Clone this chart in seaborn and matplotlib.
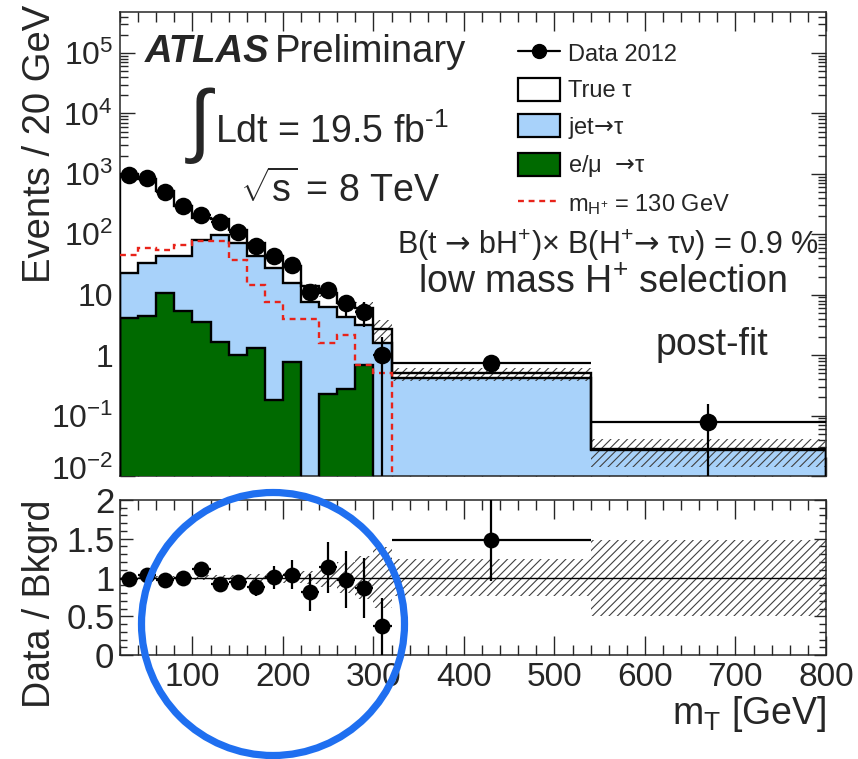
import numpy as np
import matplotlib
matplotlib.use("Agg")
import matplotlib.pyplot as plt
import matplotlib.transforms as mtransforms
import seaborn as sns
import pandas as pd
from matplotlib.patches import Patch, Ellipse
from matplotlib.lines import Line2D
from matplotlib.ticker import FixedLocator, MultipleLocator, NullFormatter, LogLocator

# ---------------- data ----------------
bin_edges = [20, 40, 60, 80, 100, 120, 140, 160, 180, 200, 220, 240, 260, 280, 300, 320, 540, 800]
data_2012 = [960, 850, 510, 290, 210, 162, 110, 64, 44, 31, 11.3, 12, 7.2, 5.2, 1.0, 0.74, 0.078]
data_err = [31, 29, 23, 17, 14.5, 12.7, 10.5, 8, 6.6, 5.6, 3.4, 3.5, 2.7, 2.3, 1.0, 0.26, 0.077]
true_tau = [960, 792, 483, 247, 108, 80, 46, 30, 16.5, 14.5, 6.3, 4.3, 3.1, 2.8, 1.1, 0.08, 0.001]
jet_tau = [18.6, 28.6, 32.5, 37.7, 77.5, 96.3, 70, 41.7, 27.3, 14.7, 7.7, 6.07, 4.02, 2.51, 1.6, 0.42, 0.027]
emu_tau = [4.1, 4.4, 10.5, 5.3, 3.5, 1.67, 1.0, 1.3, 0.18, 0.78, 0, 0.23, 0.28, 0.69, 0, 0, 0]
signal_130 = [46, 59, 54, 66, 76, 76, 38, 14.5, 7.7, 4.0, 4.0, 1.57, 2.15, 0.69, 0.5, 0, 0]
syst_up = [0.02, 0.02, 0.02, 0.02, 0.03, 0.03, 0.03, 0.04, 0.06, 0.07, 0.08, 0.12, 0.2, 0.28, 0.39, 0.24, 0.48]
syst_dn = [0.02, 0.02, 0.02, 0.02, 0.03, 0.03, 0.03, 0.04, 0.06, 0.07, 0.08, 0.12, 0.2, 0.28, 0.39, 0.24, 0.50]

x_ticks = [100, 200, 300, 400, 500, 600, 700, 800]
x_tick_labels = ["100", "200", "300", "400", "500", "600", "700", "800"]
y_ticks_top = [1e-2, 1e-1, 1, 10, 1e2, 1e3, 1e4, 1e5]
y_tick_labels_top = [r"$10^{-2}$", r"$10^{-1}$", "1", "10", r"$10^{2}$", r"$10^{3}$", r"$10^{4}$", r"$10^{5}$"]
ratio_ticks = [0, 0.5, 1, 1.5, 2]
ratio_tick_labels = ["0", "0.5", "1", "1.5", "2"]

legend_labels = ["Data 2012", "True τ", r"jet$\mathsf{→}$τ", r"e/μ  $\mathsf{→}$τ",
                 r"m$_{\mathregular{H^{+}}}$ = 130 GeV"]

# ---------------- style ----------------
sns.set_theme(style="ticks")
plt.rcParams["font.family"] = ["Liberation Sans", "DejaVu Sans"]
plt.rcParams["mathtext.fontset"] = "custom"
plt.rcParams["mathtext.rm"] = "Liberation Sans"
plt.rcParams["mathtext.it"] = "Liberation Sans:italic"
plt.rcParams["mathtext.bf"] = "Liberation Sans:bold"
plt.rcParams["mathtext.sf"] = "DejaVu Sans"
plt.rcParams["hatch.linewidth"] = 0.8
plt.rcParams["axes.linewidth"] = 1.1

LIGHTBLUE = "#a8d2fa"
GREEN = "#006a00"
HATCHC = "#404040"
HATCH = "////"

edges = np.array(bin_edges, float)
centers = 0.5 * (edges[:-1] + edges[1:])
half = 0.5 * np.diff(edges)
d = np.array(data_2012)
de = np.array(data_err)
emu = np.array(emu_tau)
jet = np.array(jet_tau)
tru = np.array(true_tau)
sig = np.array(signal_130)
cum_green = emu
cum_blue = emu + jet
cum_total = emu + jet + tru
floor = 1e-4

fig = plt.figure(figsize=(8.58, 7.59), dpi=100)
ax = fig.add_axes([0.13986, 0.37286, 0.82284, 0.61133])
ax2 = fig.add_axes([0.13986, 0.13702, 0.82284, 0.20422])

# ---------------- top panel ----------------
ax.set_yscale("log")
ax.stairs(np.maximum(cum_total, floor), edges, baseline=floor, fill=True,
          facecolor="white", edgecolor="none", zorder=1)
ax.stairs(np.maximum(cum_blue, floor), edges, baseline=floor, fill=True,
          facecolor=LIGHTBLUE, edgecolor="none", zorder=2)
ax.stairs(np.maximum(cum_green, floor), edges, baseline=floor, fill=True,
          facecolor=GREEN, edgecolor="none", zorder=3)
band_hi = cum_total * (1 + np.array(syst_up))
band_lo = np.maximum(cum_total * (1 - np.array(syst_dn)), floor)
ax.stairs(band_hi, edges, baseline=band_lo, fill=True, facecolor="none",
          edgecolor=HATCHC, hatch=HATCH, linewidth=0, zorder=4)
for arr in (cum_total, cum_blue, cum_green):
    ax.stairs(np.maximum(arr, floor), edges, baseline=floor, fill=False,
              color="black", linewidth=1.7, zorder=5)
ax.stairs(np.maximum(sig, floor), edges, baseline=None, color="#e8231a",
          linestyle=(0, (2.5, 2)), linewidth=1.7, zorder=6)

lo_err = np.minimum(de, d * 0.999)
ax.errorbar(centers, d, xerr=half, yerr=[lo_err, de], fmt="none", ecolor="black",
            elinewidth=1.6, capsize=0, zorder=7)
df_top = pd.DataFrame({"mT": centers, "events": d})
sns.scatterplot(data=df_top, x="mT", y="events", ax=ax, color="black", s=160,
                edgecolor="black", linewidth=0, zorder=8, legend=False)

ax.set_xlim(20, 800)
ax.set_ylim(0.01, 4.77e5)
ax.xaxis.set_major_locator(FixedLocator(x_ticks))
ax.xaxis.set_minor_locator(MultipleLocator(20))
ax.set_xticklabels([])
ax.yaxis.set_major_locator(FixedLocator(y_ticks_top))
ax.set_yticklabels(y_tick_labels_top)
ax.yaxis.set_minor_locator(LogLocator(base=10, subs=np.arange(2, 10), numticks=50))
ax.yaxis.set_minor_formatter(NullFormatter())
ax.tick_params(axis="both", which="both", direction="in", top=True, right=True, width=1.0)
ax.tick_params(axis="x", which="major", length=14)
ax.tick_params(axis="x", which="minor", length=7)
ax.tick_params(axis="y", which="major", length=11, labelsize=23, pad=5)
ax.tick_params(axis="y", which="minor", length=5.5)
ax.set_xlabel("")
ax.set_ylabel("Events / 20 GeV", fontsize=27.5, loc="top")
ax.yaxis.set_label_coords(-0.088, 1.015)
# lift the lowest label a little so that it clears the ratio panel's "2"
low_lab = ax.get_yticklabels()[0]
low_lab.set_transform(low_lab.get_transform() +
                      mtransforms.ScaledTranslation(0, 8 / 100, fig.dpi_scale_trans))

# texts
ax.text(0.035, 0.913, "ATLAS", transform=ax.transAxes, fontsize=27.5, fontweight="bold",
        fontstyle="italic", va="center", ha="left")
ax.text(0.219, 0.913, "Preliminary", transform=ax.transAxes, fontsize=27.5, va="center", ha="left")
ax.text(0.098, 0.755, "∫", transform=ax.transAxes, fontsize=58, va="center", ha="left")
ax.text(0.134, 0.74, r"Ldt = 19.5 fb$^{\text{-1}}$", transform=ax.transAxes,
        fontsize=27, va="center", ha="left")
ax.text(0.170, 0.617, r"$\sqrt{\mathregular{s}}$ = 8 TeV", transform=ax.transAxes,
        fontsize=27, va="center", ha="left")
ax.text(0.392, 0.497, r"B(t $\mathsf{→}$ bH$^{+}$)× B(H$^{+}$$\mathsf{→}$ τν) = 0.9 %",
        transform=ax.transAxes, fontsize=22, va="center", ha="left")
ax.text(0.422, 0.415, r"low mass H$^{+}$ selection", transform=ax.transAxes,
        fontsize=27, va="center", ha="left")
ax.text(0.758, 0.282, "post-fit", transform=ax.transAxes, fontsize=27, va="center", ha="left")

handles = [
    Line2D([], [], color="black", marker="o", markersize=10, linewidth=1.6),
    Patch(facecolor="white", edgecolor="black", linewidth=1.6),
    Patch(facecolor=LIGHTBLUE, edgecolor="black", linewidth=1.6),
    Patch(facecolor=GREEN, edgecolor="black", linewidth=1.6),
    Line2D([], [], color="#e8231a", linestyle=(0, (2.5, 2)), linewidth=1.7),
]
leg = ax.legend(handles, legend_labels, loc="upper left", bbox_to_anchor=(0.564, 0.937),
                frameon=False, fontsize=17, handlelength=1.78, handleheight=1.14,
                labelspacing=0.5, handletextpad=0.34, borderpad=0, borderaxespad=0)

# ---------------- ratio panel ----------------
ratio = d / cum_total
ratio_err = de / cum_total
ratio_lo = np.minimum(ratio_err, ratio * 0.999)
show = ratio <= 2
ax2.stairs(1 + np.array(syst_up), edges, baseline=1 - np.array(syst_dn), fill=True,
           facecolor="none", edgecolor=HATCHC, hatch=HATCH, linewidth=0, zorder=1)
ax2.axhline(1, color="black", linewidth=1.0, zorder=2)
ax2.errorbar(centers[show], ratio[show], xerr=half[show],
             yerr=[ratio_lo[show], ratio_err[show]], fmt="none", ecolor="black",
             elinewidth=1.6, capsize=0, zorder=3)
df_rat = pd.DataFrame({"mT": centers[show], "ratio": ratio[show]})
sns.scatterplot(data=df_rat, x="mT", y="ratio", ax=ax2, color="black", s=130,
                edgecolor="black", linewidth=0, zorder=4, legend=False)
ax2.set_xlim(20, 800)
ax2.set_ylim(0, 2)
ax2.xaxis.set_major_locator(FixedLocator(x_ticks))
ax2.set_xticklabels(x_tick_labels)
ax2.xaxis.set_minor_locator(MultipleLocator(20))
ax2.yaxis.set_major_locator(FixedLocator(ratio_ticks))
ax2.set_yticklabels(ratio_tick_labels)
ax2.yaxis.set_minor_locator(MultipleLocator(0.1))
ax2.tick_params(axis="both", which="both", direction="in", top=True, right=True, width=1.0)
ax2.tick_params(axis="x", which="major", length=14, labelsize=24, pad=5)
ax2.tick_params(axis="x", which="minor", length=7)
ax2.tick_params(axis="y", which="major", length=9, labelsize=25, pad=4)
ax2.tick_params(axis="y", which="minor", length=5)
ax2.set_xlabel(r"m$_{\mathregular{T}}$ [GeV]", fontsize=27, loc="right")
ax2.xaxis.set_label_coords(1.0, -0.25)
ax2.set_ylabel("Data / Bkgrd", fontsize=27, loc="top")
ax2.yaxis.set_label_coords(-0.088, 1.0)

# blue highlight circle drawn on the figure
fig.add_artist(Ellipse((273 / 858, 1 - 624 / 759), width=263 / 858, height=263 / 759,
                       transform=fig.transFigure, fill=False, edgecolor="#1f6ff0",
                       linewidth=5.2, zorder=20))

fig.savefig("out.png", dpi=100)
